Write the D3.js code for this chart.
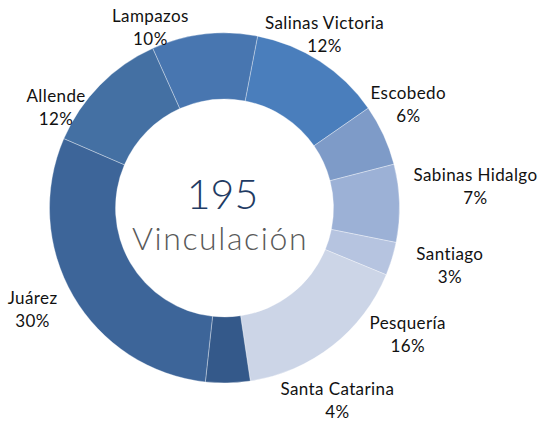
<!DOCTYPE html>
<html>
<head>
<meta charset="utf-8">
<script src="https://cdn.jsdelivr.net/npm/d3@7"></script>
<style>
  body { margin: 0; background: #fff; }
  svg { display: block; }
</style>
</head>
<body>
<svg id="chart"></svg>
<script>
// datos
var municipios = ["Salinas Victoria", "Escobedo", "Sabinas Hidalgo", "Santiago", "Pesquería",
                  "Santa Catarina", "Juárez", "Allende", "Lampazos"]
var vinculaciones = [24, 11, 14, 6, 32, 8, 58, 23, 19]
var titulo = "Vinculación"

// colores por rebanada
var colores = ["#4a7ebc", "#7e9bc8", "#9cb1d6", "#b6c4e0", "#ccd5e7",
               "#34598a", "#3d6599", "#4470a3", "#4876b0"]

// ajuste manual de etiquetas (como se arrastraron en Excel)
var ajusteEtiqueta = [[-9, -6], [2, -20], [51, -16], [34, -1], [60, -31],
                      [109, -7.5], [-19, 0.5], [-26, 39.5], [-51, 18]]

var width = 539,
    height = 424

var cx = 224.5,
    cy = 208,
    radioExt = 175,
    radioInt = 109

var svg = d3.select("#chart")
    .attr("width", width)
    .attr("height", height)

var total = d3.sum(vinculaciones)
var data = municipios.map(function (d, i) {
    return { name: d, value: vinculaciones[i] }
})

var inicio = 10.9 * Math.PI / 180

var pie = d3.pie()
    .sort(null)
    .value(function (d) { return d.value })
    .startAngle(inicio)
    .endAngle(inicio + 2 * Math.PI)

var arc = d3.arc()
    .innerRadius(radioInt)
    .outerRadius(radioExt)

var g = svg.append("g")
    .attr("transform", "translate(" + cx + "," + cy + ")")

var arcos = pie(data)

g.selectAll(".slice")
    .data(arcos)
    .enter()
    .append("path")
    .attr("class", "slice")
    .attr("d", arc)
    .attr("fill", function (d, i) { return colores[i] })
    .attr("stroke", "rgba(255,255,255,0.45)")
    .attr("stroke-width", 0.75)

// etiquetas
var formatoPct = d3.format(".0%")
var radioEtiqueta = 200

var etiquetas = g.selectAll(".etiqueta")
    .data(arcos)
    .enter()
    .append("text")
    .attr("class", "etiqueta")
    .attr("text-anchor", "middle")
    .style("font-family", "Lato, 'Open Sans', sans-serif")
    .style("font-size", "17px")
    .style("letter-spacing", "0.4px")
    .attr("fill", "#111")
    .attr("transform", function (d, i) {
        var a = (d.startAngle + d.endAngle) / 2
        var x = Math.sin(a) * radioEtiqueta + ajusteEtiqueta[i][0]
        var y = -Math.cos(a) * radioEtiqueta + ajusteEtiqueta[i][1]
        return "translate(" + x + "," + y + ")"
    })

etiquetas.append("tspan")
    .attr("x", 0)
    .attr("y", -5.5)
    .text(function (d) { return d.data.name })

etiquetas.append("tspan")
    .attr("x", 0)
    .attr("y", 17.5)
    .text(function (d) { return formatoPct(d.data.value / total) })

// texto central
g.append("text")
    .attr("text-anchor", "middle")
    .attr("x", -2)
    .attr("y", 1.3)
    .style("font-family", "Lato, sans-serif")
    .style("font-weight", 300)
    .style("font-size", "41px")
    .attr("fill", "#1f3b63")
    .text(total)

g.append("text")
    .attr("text-anchor", "middle")
    .attr("x", -4.5)
    .attr("y", 42)
    .style("font-family", "Lato, sans-serif")
    .style("font-weight", 300)
    .style("font-size", "32px")
    .style("letter-spacing", "1.6px")
    .attr("fill", "#595959")
    .text(titulo)
</script>
</body>
</html>
